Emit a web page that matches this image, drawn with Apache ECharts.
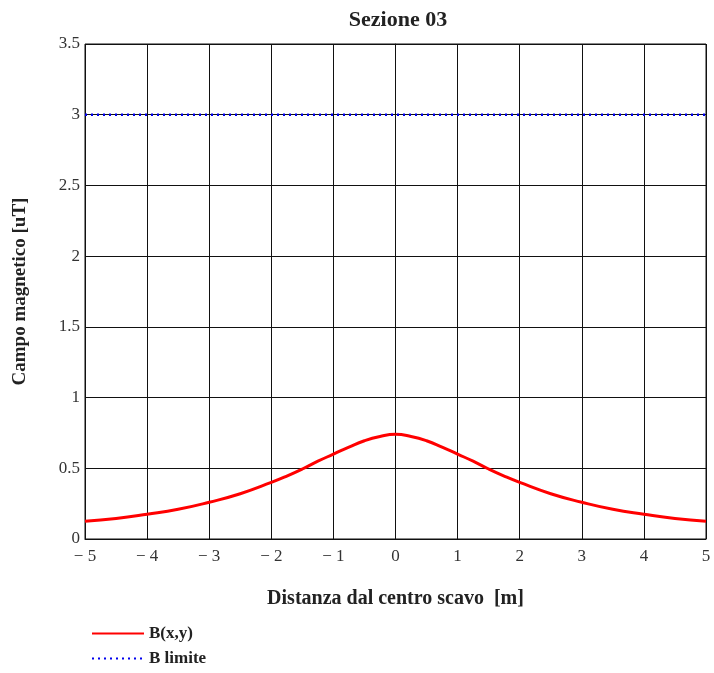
<!DOCTYPE html>
<html><head><meta charset="utf-8">
<script src="https://cdn.jsdelivr.net/npm/echarts@6/dist/echarts.min.js"></script>
<style>html,body{margin:0;padding:0;background:#fff}#c{width:714px;height:673px}</style>
</head><body><div id="c"></div>
<script>
var xValues = [-5,-4.5,-4,-3.5,-3,-2.5,-2,-1.75,-1.5,-1.25,-1,-0.75,-0.5,-0.25,0,0.25,0.5,0.75,1,1.25,1.5,1.75,2,2.5,3,3.5,4,4.5,5];
var bValues = [0.125,0.145,0.175,0.21,0.26,0.32,0.40,0.445,0.495,0.55,0.60,0.65,0.695,0.725,0.74,0.725,0.695,0.65,0.60,0.55,0.495,0.445,0.40,0.32,0.26,0.21,0.175,0.145,0.125];
var limitX = [-5, 5];
var limitValue = 3;
var seriesNames = ['B(x,y)', 'B limite'];

var font = 'Liberation Serif';
var chart = echarts.init(document.getElementById('c'));
chart.setOption({
  animation: false,
  title: {text: 'Sezione 03', left: 393, top: 4, textAlign: 'center',
    textStyle: {fontFamily: font, fontSize: 22, fontWeight: 'bold', color: '#222'}},
  grid: {left: 85, right: 8, top: 44, bottom: 134, show: true, borderColor: '#111', borderWidth: 1},
  legend: {orient: 'vertical', left: 86, top: 620, bottom: 0, itemWidth: 52, itemHeight: 10, itemGap: 8,
    itemStyle: {opacity: 0},
    textStyle: {fontFamily: font, fontSize: 17, fontWeight: 'bold', color: '#222'},
    data: seriesNames},
  xAxis: {type: 'value', min: -5, max: 5, interval: 1,
    name: 'Distanza dal centro scavo  [m]', nameLocation: 'middle', nameGap: 50,
    nameTextStyle: {fontFamily: font, fontSize: 20, fontWeight: 'bold', color: '#222'},
    axisLine: {lineStyle: {color: '#111', width: 1}}, axisTick: {show: false},
    axisLabel: {fontFamily: font, fontSize: 17, color: '#333', margin: 9,
      formatter: function(v){ return v < 0 ? '\u2212 ' + Math.abs(v) : String(v); }},
    splitLine: {show: true, lineStyle: {color: '#111', width: 1}}},
  yAxis: {type: 'value', min: 0, max: 3.5, interval: 0.5,
    name: 'Campo magnetico [uT]', nameLocation: 'middle', nameGap: 55,
    nameTextStyle: {fontFamily: font, fontSize: 19, fontWeight: 'bold', color: '#222'},
    axisLine: {lineStyle: {color: '#111', width: 1}}, axisTick: {show: false},
    axisLabel: {fontFamily: font, fontSize: 17, color: '#333', margin: 5},
    splitLine: {show: true, lineStyle: {color: '#111', width: 1}}},
  series: [
    {name: seriesNames[0], type: 'line', smooth: true, showSymbol: false, symbol: 'none',
      lineStyle: {color: '#ff0000', width: 3}, itemStyle: {color: '#ff0000'},
      data: xValues.map(function(x, i){ return [x, bValues[i]]; })},
    {name: seriesNames[1], type: 'line', showSymbol: false, symbol: 'none',
      lineStyle: {color: '#0000ee', width: 2.5, type: [2, 4]}, itemStyle: {color: '#0000ee'},
      data: limitX.map(function(x){ return [x, limitValue]; })}
  ]
});
</script></body></html>
